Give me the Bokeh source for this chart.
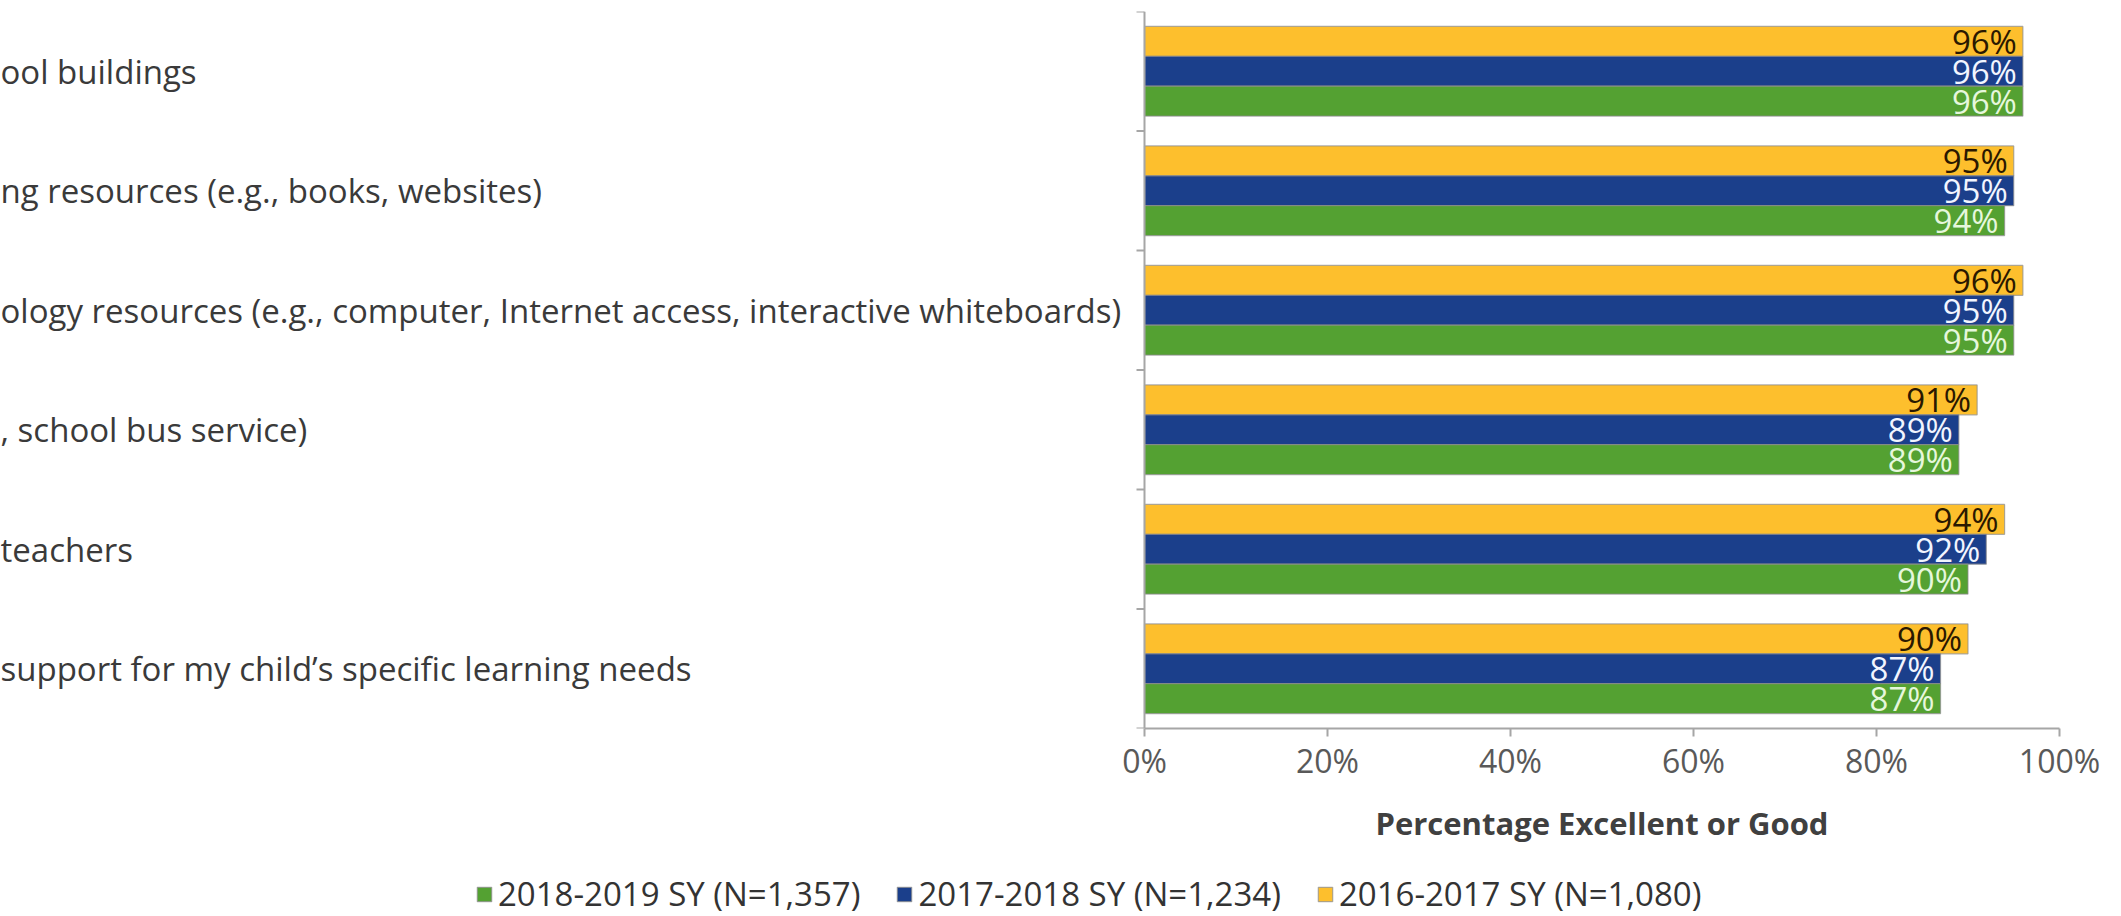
from bokeh.plotting import figure
from bokeh.layouts import column
from bokeh.models import (ColumnDataSource, FactorRange, FixedTicker, PrintfTickFormatter,
                          Span, Legend, LegendItem, Range1d, Label)
from bokeh.transform import dodge
from bokeh.core.properties import value
from bokeh.embed import file_html
from bokeh.resources import INLINE

# ---------------- data ----------------
categories = [
    "ool buildings",
    "ng resources (e.g., books, websites)",
    "ology resources (e.g., computer, Internet access, interactive whiteboards)",
    ", school bus service)",
    "teachers",
    "support for my child\u2019s specific learning needs",
]
series_names = ["2018-2019 SY (N=1,357)", "2017-2018 SY (N=1,234)", "2016-2017 SY (N=1,080)"]
green_2018_19 = [96, 94, 95, 89, 90, 87]
blue_2017_18 = [96, 95, 95, 89, 92, 87]
yellow_2016_17 = [96, 95, 96, 91, 94, 90]
x_ticks = [0, 20, 40, 60, 80, 100]
x_title = "Percentage Excellent or Good"

# ---------------- style / layout ----------------
FONT = "Open Sans"
W = 2110
H1, H2 = 800, 116               # main chart / title+legend strip
AX0, AX1 = 1144, 2059           # pixel positions of 0% and 100%
TOP, AXIS_Y = 11, 728           # frame top / x-axis line
ppu = (AX1 - AX0) / 100.0
x_start = -AX0 / ppu
x_end = (W - AX0) / ppu

GREEN, BLUE, YELLOW = "#54A132", "#1B3F8B", "#FDBF2D"
AXIS_GRAY = "#A6A6A6"
EDGE = dict(line_color="#8C8C8C", line_alpha=0.7, line_width=1.2)

src = ColumnDataSource(dict(
    cat=categories,
    green=green_2018_19,
    blue=blue_2017_18,
    yellow=yellow_2016_17,
    green_lbl=[f"{v}%" for v in green_2018_19],
    blue_lbl=[f"{v}%" for v in blue_2017_18],
    yellow_lbl=[f"{v}%" for v in yellow_2016_17],
))

xr = Range1d(x_start, x_end)
p = figure(width=W, height=H1, output_backend="svg", toolbar_location=None,
           x_range=xr,
           y_range=FactorRange(factors=list(reversed(categories)), range_padding=0),
           y_axis_location=None,
           min_border_left=0, min_border_right=0, min_border_top=TOP,
           min_border_bottom=H1 - AXIS_Y)
p.outline_line_color = None
p.grid.visible = False

bar_kw = dict(height=0.25, left=0, source=src, **EDGE)
ry = p.hbar(y=dodge("cat", 0.25, range=p.y_range), right="yellow", fill_color=YELLOW, **bar_kw)
rb = p.hbar(y=dodge("cat", 0.0, range=p.y_range), right="blue", fill_color=BLUE, **bar_kw)
rg = p.hbar(y=dodge("cat", -0.25, range=p.y_range), right="green", fill_color=GREEN, **bar_kw)

lbl_kw = dict(source=src, x_offset=-6, text_align="right", text_baseline="middle",
              text_font=value(FONT), text_font_size="33px")
p.text(x="yellow", y=dodge("cat", 0.25, range=p.y_range), text="yellow_lbl", text_color="#2A1800", **lbl_kw)
p.text(x="blue", y=dodge("cat", 0.0, range=p.y_range), text="blue_lbl", text_color="#F2F5FF", **lbl_kw)
p.text(x="green", y=dodge("cat", -0.25, range=p.y_range), text="green_lbl", text_color="#E6F7DC", **lbl_kw)

# category labels (left aligned at the left edge)
p.text(x=x_start, y="cat", text="cat", source=src, text_align="left", text_baseline="middle",
       text_font=value(FONT), text_font_size="33px", text_color="#3A3A3A")

# vertical axis line at 0% with ticks at category boundaries
p.add_layout(Span(location=0, dimension="height", line_color=AXIS_GRAY, line_width=2))
bounds = list(range(len(categories) + 1))
p.segment(x0=[0] * len(bounds), x1=[-8 / ppu] * len(bounds), y0=bounds, y1=bounds,
          line_color=AXIS_GRAY, line_width=2)

# x axis
ax = p.xaxis[0]
ax.ticker = FixedTicker(ticks=x_ticks)
ax.formatter = PrintfTickFormatter(format="%d%%")
ax.bounds = (0, 100)
ax.axis_line_color = AXIS_GRAY
ax.axis_line_width = 2
ax.major_tick_line_color = AXIS_GRAY
ax.major_tick_line_width = 2
ax.major_tick_out = 8
ax.major_tick_in = 0
ax.minor_tick_line_color = None
ax.major_label_standoff = 2
ax.major_label_text_font = FONT
ax.major_label_text_font_size = "32px"
ax.major_label_text_color = "#595959"

# ---------------- title + legend strip ----------------
p2 = figure(width=W, height=H2, output_backend="svg", toolbar_location=None,
            x_range=xr, y_range=Range1d(0, H2),
            x_axis_location=None, y_axis_location=None,
            min_border_left=0, min_border_right=0, min_border_top=0, min_border_bottom=0)
p2.outline_line_color = None
p2.grid.visible = False

p2.add_layout(Label(x=50, y=H2 - (822 - H1), text=x_title, text_align="center",
                    text_baseline="middle", text_font=FONT, text_font_size="31px",
                    text_font_style="bold", text_color="#404040"))

# legend swatches: proxy renderers (one zero-length bar each, outside the visible strip)
proxy = ColumnDataSource(dict(y=[-1000], right=[0]))
kw0 = dict(y="y", right="right", left=0, height=1, source=proxy, **EDGE)
lg = p2.hbar(fill_color=GREEN, **kw0)
lb = p2.hbar(fill_color=BLUE, **kw0)
ly = p2.hbar(fill_color=YELLOW, **kw0)

legend = Legend(items=[LegendItem(label=series_names[0], renderers=[lg]),
                       LegendItem(label=series_names[1], renderers=[lb]),
                       LegendItem(label=series_names[2], renderers=[ly])],
                orientation="horizontal", location=(475, 0),
                glyph_width=18, glyph_height=18, label_standoff=5, spacing=35,
                padding=0, margin=0, border_line_color=None, background_fill_alpha=0,
                label_text_font=FONT, label_text_font_size="33px", label_text_color="#333333")
p2.add_layout(legend, "center")

open("out.html", "w").write(file_html(column(p, p2), INLINE))
